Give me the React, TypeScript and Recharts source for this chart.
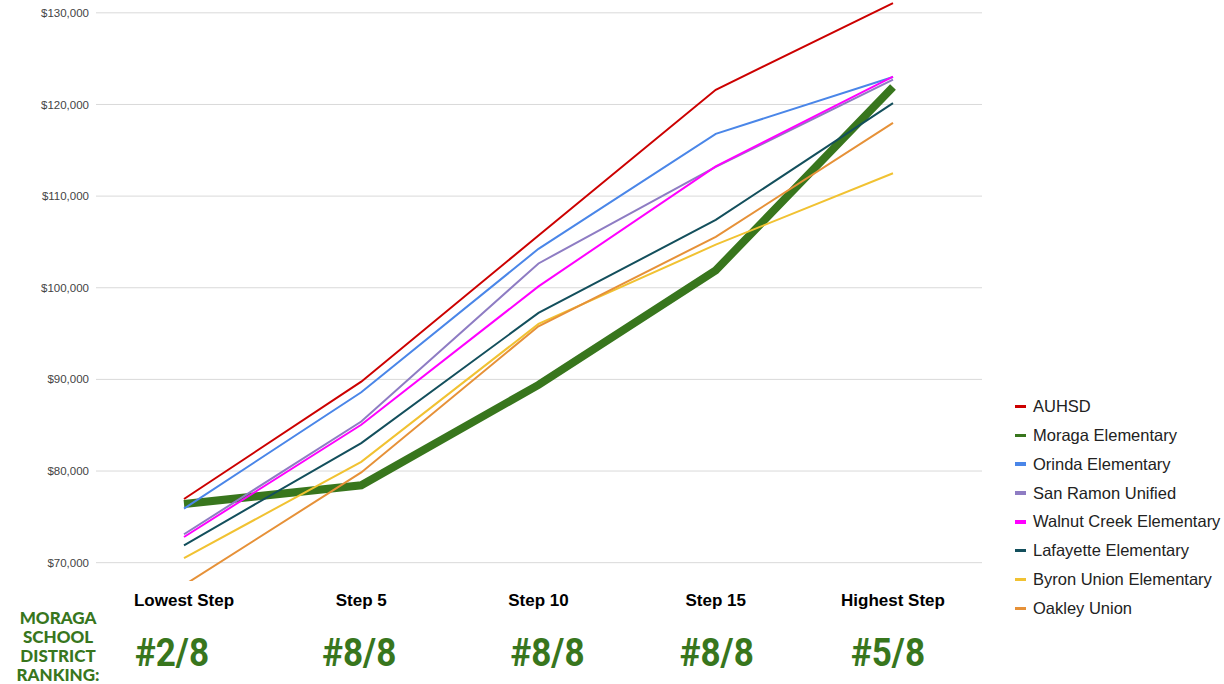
import { LineChart, Line, XAxis, YAxis, CartesianGrid } from 'recharts';

const steps = ['Lowest Step', 'Step 5', 'Step 10', 'Step 15', 'Highest Step'];
const rankings = ['#2/8', '#8/8', '#8/8', '#8/8', '#5/8'];

const auhsd = [76950, 89750, 105700, 121600, 131050];
const moraga = [76400, 78450, 89400, 101900, 121900];
const orinda = [75900, 88600, 104250, 116800, 123000];
const sanRamon = [73100, 85400, 102650, 113200, 122700];
const walnutCreek = [72800, 85050, 100150, 113250, 123050];
const lafayette = [71900, 83050, 97250, 107400, 120150];
const byron = [70500, 81000, 96050, 104700, 112500];
const oakley = [67550, 79850, 95800, 105550, 118000];

const yTicks = [70000, 80000, 90000, 100000, 110000, 120000, 130000];

const series = [
  { key: 'auhsd', name: 'AUHSD', values: auhsd, color: '#cc0000', width: 2 },
  { key: 'moraga', name: 'Moraga Elementary', values: moraga, color: '#38761d', width: 8 },
  { key: 'orinda', name: 'Orinda Elementary', values: orinda, color: '#4a86e8', width: 2 },
  { key: 'sanRamon', name: 'San Ramon Unified', values: sanRamon, color: '#8e7cc3', width: 2 },
  { key: 'walnutCreek', name: 'Walnut Creek Elementary', values: walnutCreek, color: '#ff00ff', width: 2 },
  { key: 'lafayette', name: 'Lafayette Elementary', values: lafayette, color: '#134f5c', width: 2 },
  { key: 'byron', name: 'Byron Union Elementary', values: byron, color: '#f1c232', width: 2 },
  { key: 'oakley', name: 'Oakley Union', values: oakley, color: '#e69138', width: 2 },
];

const data = steps.map((step, i) => {
  const row: Record<string, string | number> = { step };
  series.forEach((s) => {
    row[s.key] = s.values[i];
  });
  return row;
});

// the ranking numbers were pasted a bit off-centre in the original
const rankNudge = [-12, -2, 9, 1, -5];
const GREEN = '#38761d';

const StepTick = (props: any) => {
  const { x, y, payload } = props;
  const i = payload.index;
  return (
    <g>
      <text
        x={x}
        y={y + 25}
        textAnchor="middle"
        fontFamily="'Liberation Sans', Arial, sans-serif"
        fontWeight="bold"
        fontSize={17}
        fill="#000"
      >
        {payload.value}
      </text>
      <text
        x={x + rankNudge[i]}
        y={y + 85}
        textAnchor="middle"
        fontFamily="Roboto, 'Liberation Sans', sans-serif"
        fontWeight="bold"
        fontSize={38}
        fill={GREEN}
        textLength={74}
        lengthAdjust="spacingAndGlyphs"
      >
        {rankings[i]}
      </text>
    </g>
  );
};

const money = (v: number) => '$' + v.toLocaleString('en-US');

export default function App() {
  return (
    <div style={{ position: 'absolute', left: 0, top: 0, width: 1224, height: 684, background: '#fff' }}>
      <LineChart width={990} height={684} data={data} margin={{ top: 0, right: 8, left: 0, bottom: 0 }}>
        <CartesianGrid vertical={false} horizontalValues={yTicks} stroke="#d9d9d9" strokeWidth={1} />
        <XAxis
          dataKey="step"
          height={103}
          axisLine={false}
          tickLine={false}
          tickSize={0}
          tickMargin={0}
          padding={{ left: 88, right: 89 }}
          tick={<StepTick />}
          interval={0}
        />
        <YAxis
          width={96}
          domain={[68000, 131400]}
          allowDataOverflow
          ticks={yTicks}
          axisLine={false}
          tickLine={false}
          tickSize={0}
          tickMargin={7}
          tickFormatter={money}
          tick={{ fontSize: 11.5, fill: '#444', fontFamily: "'Liberation Sans', Arial, sans-serif" }}
        />
        {series.map((s) => (
          <Line
            key={s.key}
            type="linear"
            dataKey={s.key}
            name={s.name}
            stroke={s.color}
            strokeWidth={s.width}
            dot={false}
            activeDot={false}
            isAnimationActive={false}
          />
        ))}
      </LineChart>

      <div
        style={{
          position: 'absolute',
          left: 1015,
          top: 392,
          fontFamily: "'Liberation Sans', Arial, sans-serif",
          fontSize: 16.5,
          color: '#222',
        }}
      >
        {series.map((s) => (
          <div key={s.key} style={{ display: 'flex', alignItems: 'center', height: 28.86, whiteSpace: 'nowrap' }}>
            <span style={{ display: 'inline-block', width: 11, height: 3.5, background: s.color, marginRight: 7 }} />
            {s.name}
          </div>
        ))}
      </div>

      <div
        style={{
          position: 'absolute',
          left: 0,
          top: 608,
          width: 116,
          textAlign: 'center',
          fontFamily: 'Lato, sans-serif',
          fontWeight: 900,
          fontSize: 17,
          lineHeight: '19px',
          color: GREEN,
        }}
      >
        MORAGA
        <br />
        SCHOOL
        <br />
        DISTRICT
        <br />
        RANKING:
      </div>
    </div>
  );
}
